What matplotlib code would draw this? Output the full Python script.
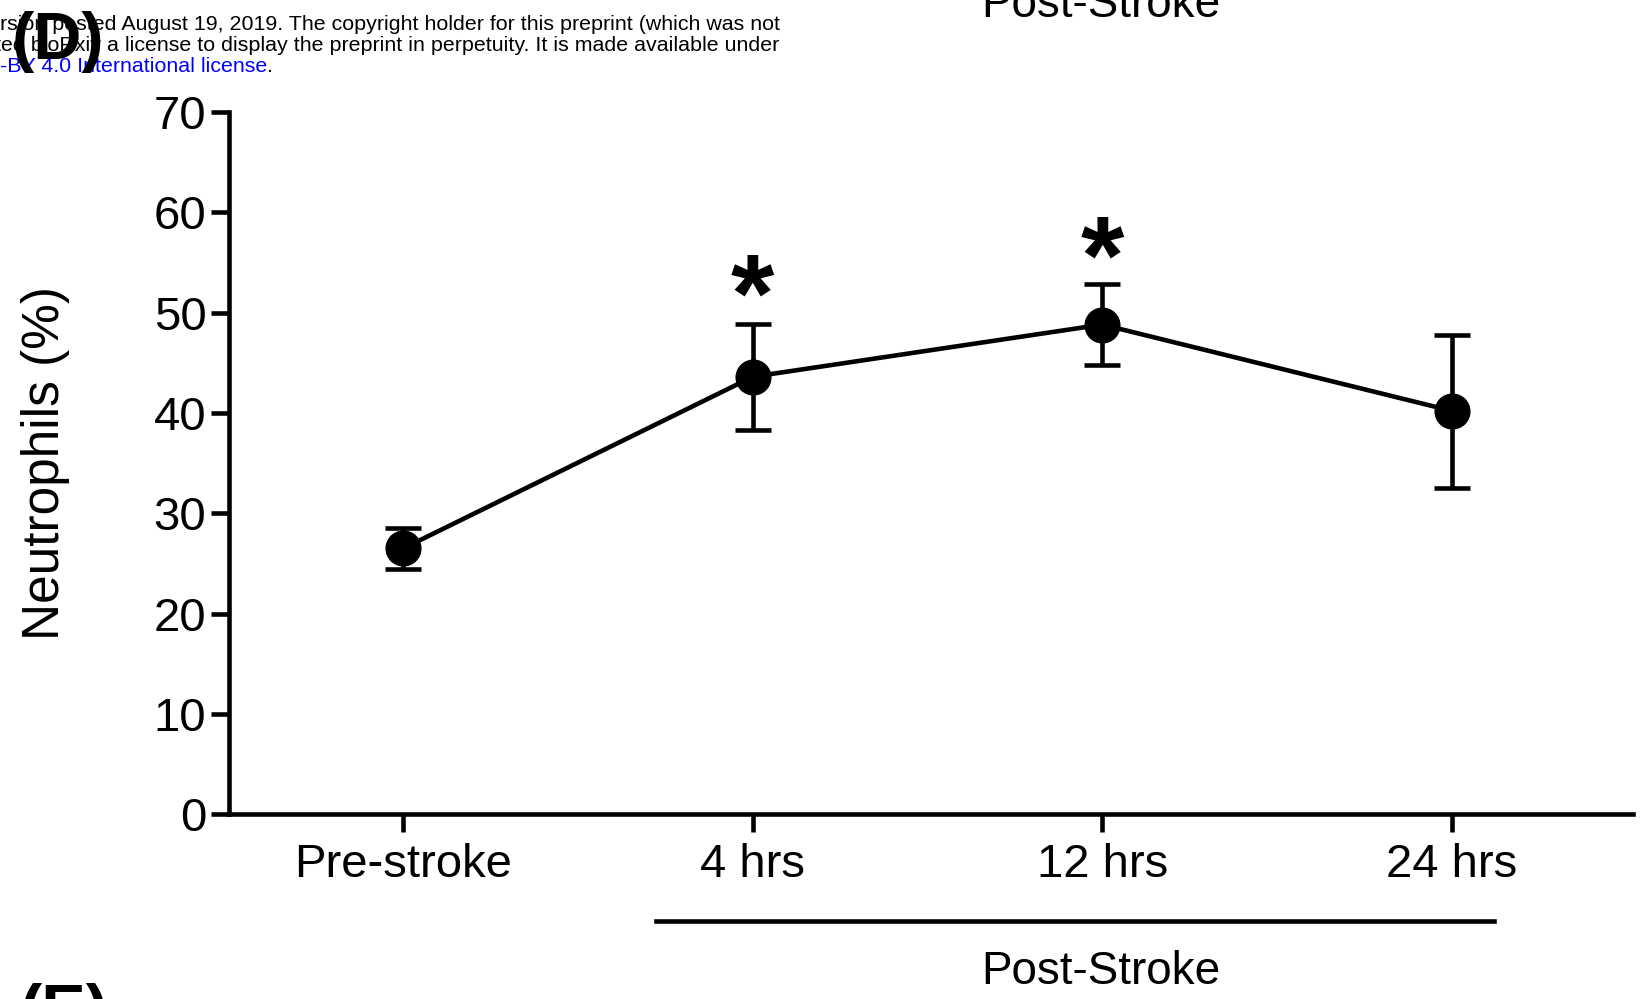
import matplotlib.pyplot as plt
import numpy as np

plt.rcParams['font.family'] = ['Liberation Sans', 'DejaVu Sans']

# data
groups = ["Pre-stroke", "4 hrs", "12 hrs", "24 hrs"]
means = [26.5, 43.6, 48.8, 40.2]
err_lo = [2.1, 5.3, 4.0, 7.7]
err_hi = [2.0, 5.3, 4.0, 7.6]
stars = [None, 51.0, 54.8, None]

fig = plt.figure(figsize=(16.45, 9.99), dpi=100)
ax = fig.add_axes([0.139, 0.185, 0.854, 0.703])

x = np.arange(len(groups))
ax.errorbar(x, means, yerr=[err_lo, err_hi], color='black', lw=3.3, marker='o',
            ms=25, capsize=13, capthick=3.3, elinewidth=3.3)
for xi, s in zip(x, stars):
    if s is not None:
        ax.text(xi, s, '*', fontsize=80, fontweight='bold', ha='center', va='center')

ax.set_xlim(-0.5, 3.52)
ax.set_ylim(0, 70)
ax.set_yticks(np.arange(0, 71, 10))
ax.set_xticks(x)
ax.set_xticklabels(groups)
ax.tick_params(labelsize=34, width=3.3, length=13, pad=8)
ax.tick_params(axis='y', pad=3)
ax.set_ylabel("Neutrophils (%)", fontsize=37)
ax.yaxis.set_label_coords(-0.113, 0.5)
for sp in ['top', 'right']:
    ax.spines[sp].set_visible(False)
for sp in ['left', 'bottom']:
    ax.spines[sp].set_linewidth(3.3)

# Post-Stroke bracket under the axis
fig.add_artist(plt.Line2D([0.399, 0.908], [0.078, 0.078], lw=3.3, color='black'))
fig.text(0.669, 0.015, "Post-Stroke", fontsize=33, ha='center', va='baseline')

# cropped bits of the surrounding page
fig.text(0.669, 0.983, "Post-Stroke", fontsize=33, ha='center', va='baseline')
fig.text(0.474, 0.970, "rsion posted August 19, 2019. The copyright holder for this preprint (which was not",
         fontsize=15.4, ha='right', va='baseline')
fig.text(0.474, 0.949, "ted bioRxiv a license to display the preprint in perpetuity. It is made available under",
         fontsize=15.4, ha='right', va='baseline')
lic = fig.text(0.0, 0.928, "-BY 4.0 International license", fontsize=15.4, color='blue', va='baseline')
fig.text(0.0, 0.928, ".", fontsize=15.4, va='baseline')
fig.canvas.draw()
fig.texts[-1].set_x(lic.get_window_extent().x1 / fig.bbox.width)
fig.text(0.035, 0.958, "(D)", fontsize=48, fontweight='bold', ha='center', va='center')
fig.text(0.012, -0.032, "(E)", fontsize=48, fontweight='bold', ha='left', va='baseline')

fig.savefig("out.png", dpi=100)
